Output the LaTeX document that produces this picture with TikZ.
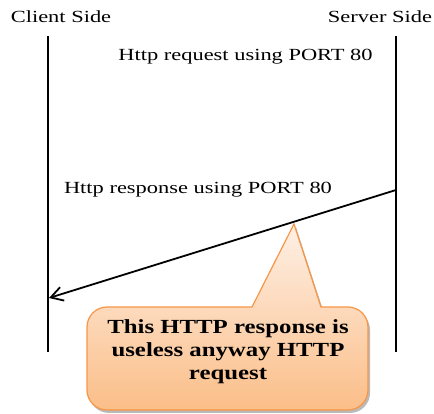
\documentclass[tikz,border=0pt]{standalone}
\usepackage{fontspec}
\setmainfont{Liberation Serif}
\usepackage{graphicx}
\usepackage{tikz}
\usetikzlibrary{arrows.meta, shadows}
\definecolor{calloutedge}{HTML}{F79646}
\definecolor{callouttop}{HTML}{FEF0E6}
\definecolor{calloutbot}{HTML}{FBBE88}
\newcommand{\wide}[2]{\scalebox{#1}[1]{#2}}

\begin{document}
\begin{tikzpicture}[x=1pt, y=1pt,
    lifeline/.style={line width=2.6pt},
    msg/.style={line width=1.8pt, -{Straight Barb[length=12pt, width=14pt, line width=1.8pt]}},
    lbl/.style={font=\fontsize{17}{20}\selectfont, inner sep=0pt},
    notetext/.style={font=\fontsize{20}{23}\selectfont\bfseries, inner sep=0pt, align=center},
    calloutbox/.style={draw=calloutedge, line width=1.2pt, top color=callouttop, bottom color=calloutbot,
      drop shadow={shadow xshift=2pt, shadow yshift=-3pt, fill=black!45, opacity=0.6}}]
			\useasboundingbox (0,0) rectangle (434,414);

			% lifelines
			\coordinate (cliTop) at (48,378);
			\coordinate (cliBot) at (48,62);
			\coordinate (srvTop) at (396,378);
			\coordinate (srvBot) at (396,62);
			\draw[lifeline] (cliTop) -- (cliBot);
			\draw[lifeline] (srvTop) -- (srvBot);

			\node[lbl, anchor=base] (client) at (61,391) {\wide{1.32}{Client Side}};
			\node[lbl, anchor=base] (server) at (380,391) {\wide{1.32}{Server Side}};

			\node[lbl, anchor=base] (request) at (245.5,353) {\wide{1.32}{Http request using PORT 80}};
			\node[lbl, anchor=base] (response) at (198,220) {\wide{1.32}{Http response using PORT 80}};

			% response arrow
			\coordinate (srvResp) at (396,224);
			\coordinate (cliResp) at (49,116);
			\draw[msg] (srvResp) -- (cliResp);

			% callout
			\path[calloutbox] (294,190) -- (321,107) -- (348,107) arc[start angle=90, end angle=0, radius=20]
				-- (368,24) arc[start angle=0, end angle=-90, radius=20]
				-- (107,4) arc[start angle=-90, end angle=-180, radius=20]
				-- (87,87) arc[start angle=180, end angle=90, radius=20]
				-- (252,107) -- cycle;
			\node[notetext] (note) at (228,62) {\wide{1.24}{\begin{tabular}{@{}c@{}}This HTTP response is\\useless anyway HTTP\\request\end{tabular}}};
		\end{tikzpicture}
\end{document}
